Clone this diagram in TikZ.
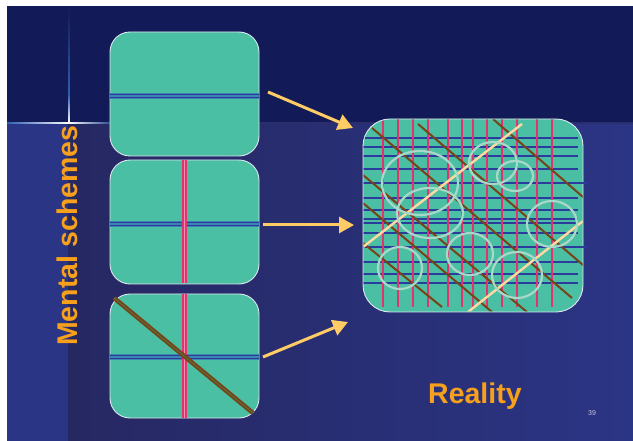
\documentclass[tikz,border=0pt]{standalone}
\usepackage{fontspec}
\setmainfont{Liberation Sans}
\usetikzlibrary{arrows.meta}
\definecolor{topband}{HTML}{121B57}
\definecolor{lowleft}{HTML}{2A3585}
\definecolor{lowmid}{HTML}{262862}
\definecolor{lowright}{HTML}{2B3585}
\definecolor{seam}{HTML}{2A2D6E}
\definecolor{glowblue}{HTML}{3060B0}
\definecolor{boxfill}{HTML}{4BBFA4}
\definecolor{boxline}{HTML}{DDE6EE}
\definecolor{bluel}{HTML}{2B3C9C}
\definecolor{blueband}{HTML}{3A86B0}
\definecolor{pinkl}{HTML}{E2336F}
\definecolor{pinkc}{HTML}{F48FB2}
\definecolor{brownl}{HTML}{774418}
\definecolor{brownc}{HTML}{5E6A3A}
\definecolor{peach}{HTML}{FFD9A0}
\definecolor{ringc}{HTML}{A8D9C8}
\definecolor{arrowc}{HTML}{FFCC66}
\definecolor{orangetxt}{HTML}{F7A01C}
\definecolor{numgrey}{HTML}{C8C8D7}
\tikzset{
  schemebox/.style={draw=boxline, line width=0.9pt, fill=boxfill, rounded corners=20pt,
    minimum width=149pt, minimum height=124pt, inner sep=0pt},
  realbox/.style={draw=boxline, line width=0.9pt, fill=boxfill, rounded corners=27pt,
    minimum width=220pt, minimum height=193pt, inner sep=0pt},
  flow/.style={draw=arrowc, line width=3pt, -{Triangle[length=15pt,width=16pt]}},
  bigtxt/.style={text=orangetxt, font=\fontsize{28.5}{28.5}\selectfont\bfseries, inner sep=0pt},
  rvert/.style={draw=pinkl, line width=2.4pt},
  rhoriz/.style={draw=bluel, line width=1.8pt},
  rdiag/.style={draw=brownl, line width=2pt},
  rpeach/.style={draw=peach, line width=2.4pt},
  rring/.style={draw=ringc, line width=2.2pt},
}
\begin{document}
\begin{tikzpicture}[x=1pt,y=-1pt]
\useasboundingbox (0,0) rectangle (633,441);
% background
\fill[white] (0,0) rectangle (633,441);
\fill[lowleft] (7,123) rectangle (68,441);
\shade[left color=lowmid, right color=lowright] (68,123) rectangle (633,441);
\fill[topband] (7,6) rectangle (633,123);
\fill[seam] (7,122) rectangle (633,124.5);
% glow lines
\shade[top color=topband, bottom color=glowblue] (68.3,6.5) rectangle (69.9,95);
\shade[top color=glowblue, bottom color=white] (68.3,95) rectangle (69.9,123);
\shade[left color=glowblue, right color=white] (7,122.2) rectangle (69,124);
\shade[left color=white, right color=glowblue!60!topband] (69,122.2) rectangle (112,124);
\fill[white] (0,0) rectangle (633,6);
\fill[white] (0,0) rectangle (7,441);

% scheme boxes
\node[schemebox] (s1) at (184.5,94) {};
\node[schemebox] (s2) at (184.5,222) {};
\node[schemebox] (s3) at (184.5,356) {};

% box 1 lines
\draw[blueband, line width=5.5pt] (s1.west |- 0,96) -- (s1.east |- 0,96);
\draw[bluel, line width=1pt] (s1.west |- 0,95) -- (s1.east |- 0,95);
\draw[bluel, line width=1pt] (s1.west |- 0,97.8) -- (s1.east |- 0,97.8);
% box 2 lines
\draw[blueband, line width=5.5pt] (s2.west |- 0,224) -- (s2.east |- 0,224);
\draw[bluel, line width=1pt] (s2.west |- 0,223) -- (s2.east |- 0,223);
\draw[bluel, line width=1pt] (s2.west |- 0,225.8) -- (s2.east |- 0,225.8);
\draw[pinkl, line width=5pt] (184,160.5) -- (184,283.5);
\draw[pinkc, line width=1pt] (184,160.5) -- (184,283.5);
% box 3 lines
\draw[blueband, line width=5.5pt] (s3.west |- 0,357) -- (s3.east |- 0,357);
\draw[bluel, line width=1pt] (s3.west |- 0,356) -- (s3.east |- 0,356);
\draw[bluel, line width=1pt] (s3.west |- 0,358.8) -- (s3.east |- 0,358.8);
\draw[pinkl, line width=5pt] (184,294.5) -- (184,417.5);
\draw[pinkc, line width=1pt] (184,294.5) -- (184,417.5);
\draw[brownl, line width=4.5pt] (114,298) -- (253,413);
\draw[brownc, line width=1pt] (114,298) -- (253,413);

% reality box
\node[realbox] (real) at (473,215.5) {};
\begin{scope}
\clip[rounded corners=27pt] (363.5,119.5) rectangle (582.5,311.5);
\foreach \yy in {138,147,156,169,183,198,210,219,223,233,247,262,274,283}
  \draw[rhoriz] (363,\yy) -- (578,\yy);
\foreach \xx in {383,398,413,428,448,462,473,487,502,517,537,552}
  \draw[rvert] (\xx,119) -- (\xx,307);
\draw[rdiag] (372,128) -- (572,298);
\draw[rdiag] (418,124) -- (583,265);
\draw[rdiag] (493,119) -- (583,197);
\draw[rdiag] (363,175) -- (527,312);
\draw[rdiag] (363,203) -- (492,312);
\draw[rdiag] (363,243) -- (442,307);
\draw[rpeach] (363,247) -- (522,124);
\draw[rpeach] (468,312) -- (583,221);
\draw[rring] (420,183) ellipse [x radius=38, y radius=32];
\draw[rring] (430,213) ellipse [x radius=33, y radius=25];
\draw[rring] (493,163) ellipse [x radius=24, y radius=21];
\draw[rring] (515,176) ellipse [x radius=18, y radius=15];
\draw[rring] (552,224) ellipse [x radius=25, y radius=23];
\draw[rring] (470,254) ellipse [x radius=23, y radius=21];
\draw[rring] (517,275) ellipse [x radius=25, y radius=23];
\draw[rring] (400,268) ellipse [x radius=22, y radius=21];
\end{scope}
\draw[rhoriz] (578,183) -- (587,183);
\draw[rhoriz] (578,247) -- (587,247);

% arrows
\coordinate (a1s) at (268,92);
\coordinate (a1e) at (353,128);
\coordinate (a2s) at (263,225);
\coordinate (a2e) at (354,225);
\coordinate (a3s) at (263,357);
\coordinate (a3e) at (348,322);
\draw[flow] (a1s) -- (a1e);
\draw[flow] (a2s) -- (a2e);
\draw[flow] (a3s) -- (a3e);

% texts
\node[bigtxt, rotate=90, anchor=base west] (mtxt) at (77,346) {Mental schemes};
\node[bigtxt, anchor=base west] (rtxt) at (428,403) {Reality};
\node[text=numgrey, font=\fontsize{7}{7}\selectfont, inner sep=0pt] (pnum) at (592,413) {39};
\end{tikzpicture}
\end{document}
